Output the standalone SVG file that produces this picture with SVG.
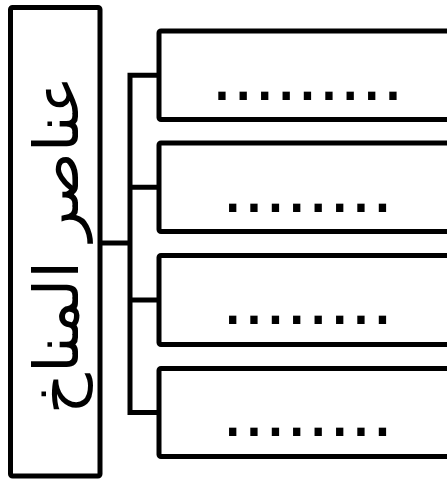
<svg xmlns="http://www.w3.org/2000/svg" width="447" height="479" viewBox="0 0 447 479">
<style>
.box{fill:#fff;stroke:#000;stroke-width:5}
.conn{fill:none;stroke:#000;stroke-width:5;stroke-linejoin:miter}
.dots{font-family:"Liberation Sans",Arial,sans-serif;font-size:77px;fill:#000;text-anchor:middle}
.title{font-family:"DejaVu Sans",sans-serif;font-size:62px;fill:#000;text-anchor:middle}
</style>
<rect width="447" height="479" fill="#fff"/>
<g id="connectors">
<path class="conn" d="M159,75.25 H130 V412.5 H159 M130,187.25 H159 M130,300 H159 M100,243 H130"/>
</g>
<g id="main">
<rect class="box" x="10.5" y="7.5" width="89.5" height="468.5" rx="2"/>
<text class="title" transform="translate(78,245) rotate(-90)" textLength="338" lengthAdjust="spacingAndGlyphs" direction="rtl">عناصر المناخ</text>
</g>
<g id="box1">
<rect class="box" x="159" y="31" width="300" height="88.5" rx="2"/>
<text class="dots" x="307.5" y="100">.........</text>
</g>
<g id="box2">
<rect class="box" x="159" y="143" width="300" height="88.5" rx="2"/>
<text class="dots" x="307.5" y="211.7">........</text>
</g>
<g id="box3">
<rect class="box" x="159" y="255.5" width="300" height="89" rx="2"/>
<text class="dots" x="307.5" y="323.7">........</text>
</g>
<g id="box4">
<rect class="box" x="159" y="368.5" width="300" height="88" rx="2"/>
<text class="dots" x="307.5" y="435.7">........</text>
</g>
</svg>
